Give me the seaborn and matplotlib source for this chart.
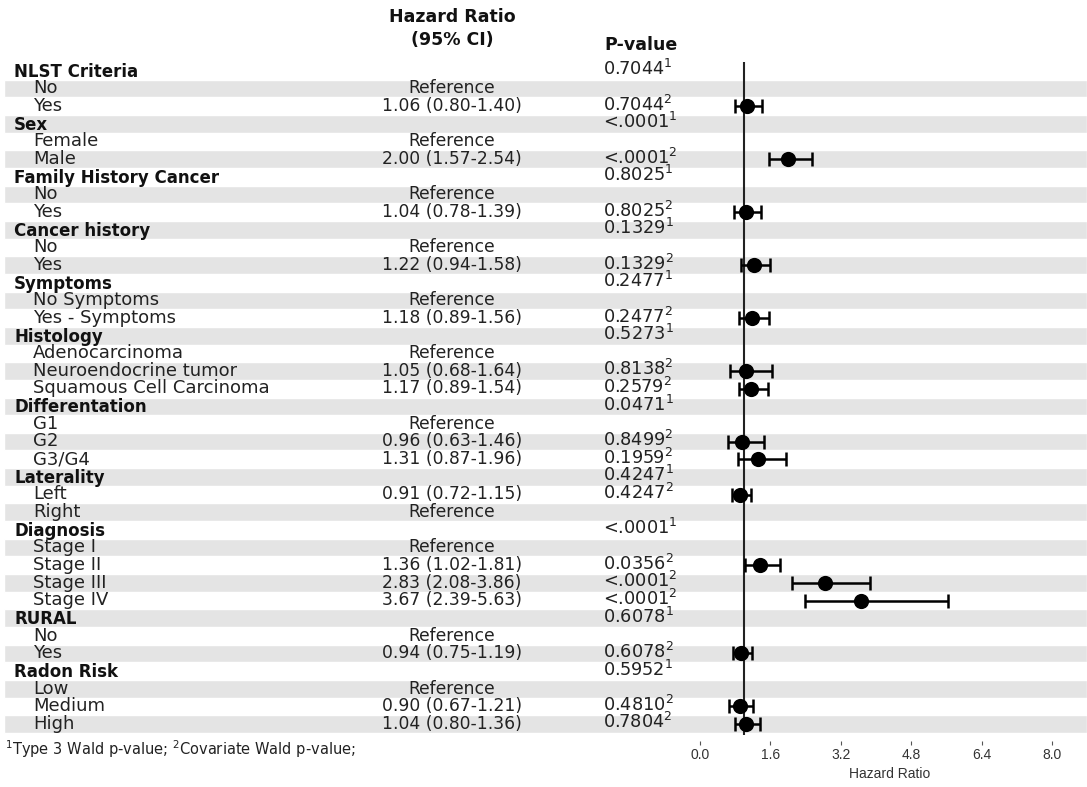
import numpy as np
import pandas as pd
import matplotlib
matplotlib.use("Agg")
import matplotlib.pyplot as plt
import seaborn as sns

# ---------------- data ----------------
labels = ["NLST Criteria", "No", "Yes",
          "Sex", "Female", "Male",
          "Family History Cancer", "No", "Yes",
          "Cancer history", "No", "Yes",
          "Symptoms", "No Symptoms", "Yes - Symptoms",
          "Histology", "Adenocarcinoma", "Neuroendocrine tumor", "Squamous Cell Carcinoma",
          "Differentation", "G1", "G2", "G3/G4",
          "Laterality", "Left", "Right",
          "Diagnosis", "Stage I", "Stage II", "Stage III", "Stage IV",
          "RURAL", "No", "Yes",
          "Radon Risk", "Low", "Medium", "High"]
is_header = [1, 0, 0, 1, 0, 0, 1, 0, 0, 1, 0, 0, 1, 0, 0, 1, 0, 0, 0,
             1, 0, 0, 0, 1, 0, 0, 1, 0, 0, 0, 0, 1, 0, 0, 1, 0, 0, 0]
hr_text = ["", "Reference", "1.06 (0.80-1.40)",
           "", "Reference", "2.00 (1.57-2.54)",
           "", "Reference", "1.04 (0.78-1.39)",
           "", "Reference", "1.22 (0.94-1.58)",
           "", "Reference", "1.18 (0.89-1.56)",
           "", "Reference", "1.05 (0.68-1.64)", "1.17 (0.89-1.54)",
           "", "Reference", "0.96 (0.63-1.46)", "1.31 (0.87-1.96)",
           "", "0.91 (0.72-1.15)", "Reference",
           "", "Reference", "1.36 (1.02-1.81)", "2.83 (2.08-3.86)", "3.67 (2.39-5.63)",
           "", "Reference", "0.94 (0.75-1.19)",
           "", "Reference", "0.90 (0.67-1.21)", "1.04 (0.80-1.36)"]
p_text = ["0.7044", "", "0.7044",
          "<.0001", "", "<.0001",
          "0.8025", "", "0.8025",
          "0.1329", "", "0.1329",
          "0.2477", "", "0.2477",
          "0.5273", "", "0.8138", "0.2579",
          "0.0471", "", "0.8499", "0.1959",
          "0.4247", "0.4247", "",
          "<.0001", "", "0.0356", "<.0001", "<.0001",
          "0.6078", "", "0.6078",
          "0.5952", "", "0.4810", "0.7804"]
p_note = ["1", "", "2", "1", "", "2", "1", "", "2", "1", "", "2", "1", "", "2",
          "1", "", "2", "2", "1", "", "2", "2", "1", "2", "",
          "1", "", "2", "2", "2", "1", "", "2", "1", "", "2", "2"]

# estimates (row index -> HR, lower, upper)
est_rows = [2, 5, 8, 11, 14, 17, 18, 21, 22, 24, 28, 29, 30, 33, 36, 37]
est_hr = [1.06, 2.00, 1.04, 1.22, 1.18, 1.05, 1.17, 0.96, 1.31, 0.91, 1.36, 2.83, 3.67, 0.94, 0.90, 1.04]
est_lo = [0.80, 1.57, 0.78, 0.94, 0.89, 0.68, 0.89, 0.63, 0.87, 0.72, 1.02, 2.08, 2.39, 0.75, 0.67, 0.80]
est_hi = [1.40, 2.54, 1.39, 1.58, 1.56, 1.64, 1.54, 1.46, 1.96, 1.15, 1.81, 3.86, 5.63, 1.19, 1.21, 1.36]

x_ticks = [0.0, 1.6, 3.2, 4.8, 6.4, 8.0]
x_tick_labels = ["0.0", "1.6", "3.2", "4.8", "6.4", "8.0"]

# ---------------- style ----------------
sns.set_style("white")
plt.rcParams["font.family"] = ["DejaVu Sans"]
plt.rcParams["mathtext.fontset"] = "dejavusans"

W, H = 1087, 787
fig = plt.figure(figsize=(W / 100, H / 100), dpi=100)

ROW0 = 71.0      # px of first row center
ROWH = 17.65     # px per row

def px2row(py):
    return (py - ROW0) / ROWH

# table axes (full figure, x in pixels, y in row units)
ax_t = fig.add_axes([0, 0, 1, 1])
ax_t.set_xlim(0, W)
ax_t.set_ylim(px2row(H), px2row(0))
ax_t.axis("off")

rows = np.arange(len(labels))
band_rows = rows[1::2]
ax_t.barh(band_rows, width=W - 4, left=4, height=1.0, color="#e4e4e4", zorder=0)

txt_col = "#111111"
for i, lab in enumerate(labels):
    if is_header[i]:
        ax_t.text(14, i + 0.34, lab, fontsize=12, fontweight="bold", color=txt_col,
                  ha="left", va="baseline")
    else:
        ax_t.text(33, i + 0.27, lab, fontsize=13, color="#222222",
                  ha="left", va="baseline")
    if hr_text[i]:
        ax_t.text(452, i + 0.27, hr_text[i], fontsize=12.3, color="#222222",
                  ha="center", va="baseline")
    if p_text[i]:
        ax_t.text(603, i + 0.25, p_text[i] + r"$^{" + p_note[i] + r"}$", fontsize=12.8,
                  color="#222222", ha="left", va="baseline")

# column headers
ax_t.text(452, px2row(17), "Hazard Ratio", fontsize=12.5, fontweight="bold",
          color=txt_col, ha="center", va="center")
ax_t.text(452, px2row(40), "(95% CI)", fontsize=12.5, fontweight="bold",
          color=txt_col, ha="center", va="center")
ax_t.text(641, px2row(45), "P-value", fontsize=12.5, fontweight="bold",
          color=txt_col, ha="center", va="center")

# footnote
ax_t.text(5, px2row(749), r"$^{1}$Type 3 Wald p-value; $^{2}$Covariate Wald p-value;",
          fontsize=10.5, color="#222222", ha="left", va="center")

# forest axes
fx0, fx1 = 700, 1052
fy_top, fy_bot = 62, 741
ax_f = fig.add_axes([fx0 / W, (H - fy_bot) / H, (fx1 - fx0) / W, (fy_bot - fy_top) / H])
ax_f.patch.set_alpha(0)
ax_f.set_xlim(0, 8)
ax_f.set_ylim(px2row(fy_bot), px2row(fy_top))
for s in ax_f.spines.values():
    s.set_visible(False)

ax_f.vlines(1.0, px2row(fy_top), px2row(735), color="#222222", lw=1.5, zorder=2)

df = pd.DataFrame({"row": est_rows, "hr": est_hr, "lo": est_lo, "hi": est_hi})
ax_f.errorbar(df["hr"], df["row"],
              xerr=[df["hr"] - df["lo"], df["hi"] - df["hr"]],
              fmt="none", ecolor="black", elinewidth=1.8, capsize=4.8, capthick=1.8,
              zorder=3)
sns.scatterplot(data=df, x="hr", y="row", ax=ax_f, color="black", s=120,
                edgecolor="black", linewidth=0, zorder=4, legend=False)

ax_f.set_xticks(x_ticks)
ax_f.set_xticklabels(x_tick_labels, fontsize=10, color="#333333", family="Liberation Sans")
ax_f.set_yticks([])
ax_f.tick_params(axis="x", bottom=True, direction="out", length=3, width=0.8,
                 color="#555555", pad=2)
ax_f.set_xlabel("Hazard Ratio", fontsize=10, color="#333333", family="Liberation Sans")
ax_f.xaxis.set_label_coords((890 - fx0) / (fx1 - fx0), -(767 - fy_bot) / (fy_bot - fy_top))
ax_f.set_ylabel("")

fig.savefig("out.png", dpi=100)
